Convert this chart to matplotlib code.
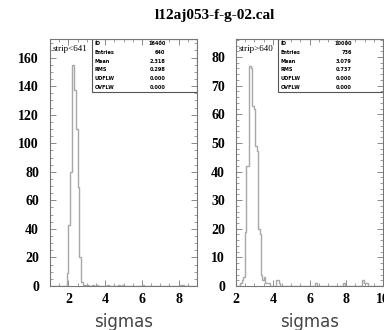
import numpy as np
import matplotlib
matplotlib.use("Agg")
import matplotlib.pyplot as plt

title = "l12aj053-f-g-02.cal"

# Left panel: strip<641, bin width 0.1, range 1..9
left_label = "strip<641"
left_bin_lo = [1.9, 2.0, 2.1, 2.2, 2.3, 2.4, 2.5, 2.6, 2.7, 2.8, 2.9, 3.0, 3.3, 3.5,
               4.1, 4.7, 4.9, 6.0, 8.1, 8.2]
left_counts = [9, 43, 80, 155, 137, 110, 69, 20, 3, 1, 1, 1, 1, 1,
               1, 1, 1, 1, 1, 1]
left_width = 0.1
left_range = (1.0, 9.0)
left_ylim = 173
left_yticks = [0, 20, 40, 60, 80, 100, 120, 140, 160]
left_xticks = [2, 4, 6, 8]
left_stats = [("ID", "16400"), ("Entries", "640"), ("Mean", "2.318"),
              ("RMS", "0.298"), ("UDFLW", "0.000"), ("OVFLW", "0.000")]

# Right panel: strip>640, bin width 0.08, range 2..10
right_label = "strip>640"
right_bin_lo = [2.24, 2.32, 2.40, 2.48, 2.56, 2.64, 2.72, 2.80, 2.88, 2.96, 3.04,
                3.12, 3.20, 3.28, 3.36, 3.44, 3.52, 3.60, 3.68, 3.76, 4.16, 4.24,
                4.32, 6.32, 7.84, 8.88, 8.96, 9.04, 9.12]
right_counts = [1, 2, 3, 19, 42, 42, 77, 76, 63, 62, 49,
                47, 20, 18, 4, 2, 3, 1, 1, 1, 2, 2,
                1, 1, 1, 2, 1, 1, 1]
right_width = 0.08
right_range = (2.0, 10.0)
right_ylim = 86.3
right_yticks = [0, 10, 20, 30, 40, 50, 60, 70, 80]
right_xticks = [2, 4, 6, 8, 10]
right_stats = [("ID", "10000"), ("Entries", "736"), ("Mean", "3.079"),
               ("RMS", "0.737"), ("UDFLW", "0.000"), ("OVFLW", "0.000")]

xlabel = "sigmas"

W, H = 384, 330
fig = plt.figure(figsize=(W / 100, H / 100), dpi=100)
fig.patch.set_facecolor("white")

serif = "Liberation Serif"
fig.text(215 / W, 1 - 15 / H, title, ha="center", va="center",
         family=serif, fontweight="bold", fontsize=11)

frame_col = "#777777"
hist_col = "#a8a8a8"


def panel(rect, lo, counts, width, xr, ylim, yticks, xticks, label, stats):
    ax = fig.add_axes(rect)
    edges = np.arange(xr[0], xr[1] + width / 2, width)
    centers = np.array(lo) + width / 2
    ax.hist(centers, bins=edges, weights=counts, histtype="step",
            color=hist_col, linewidth=1.0)
    ax.set_xlim(*xr)
    ax.set_ylim(0, ylim)
    ax.set_xticks(xticks)
    ax.set_yticks(yticks)
    ax.set_xticklabels([str(t) for t in xticks])
    ax.set_yticklabels([str(t) for t in yticks])
    ax.minorticks_on()
    ax.tick_params(which="both", direction="in", top=True, right=True,
                   color=frame_col)
    ax.tick_params(which="major", length=4, width=0.6, labelsize=10)
    ax.tick_params(axis="y", which="major", pad=8)
    ax.tick_params(axis="x", which="major", pad=5)
    ax.tick_params(which="minor", length=2, width=0.5)
    for lab in ax.get_xticklabels() + ax.get_yticklabels():
        lab.set_family(serif)
        lab.set_fontweight("bold")
    for s in ax.spines.values():
        s.set_color(frame_col)
        s.set_linewidth(0.8)
    ax.set_xlabel(xlabel, fontsize=12, family="DejaVu Sans", color="#444444",
                  labelpad=5)
    ax.text(0.02, 0.975, label, transform=ax.transAxes, ha="left", va="top",
            family=serif, fontsize=6.5)
    # stats box
    bx0, by0 = 0.286, 0.785
    ax.add_patch(plt.Rectangle((bx0, by0), 1 - bx0, 1 - by0,
                               transform=ax.transAxes, fill=False,
                               edgecolor="#555555", linewidth=0.8))
    n = len(stats)
    for i, (k, v) in enumerate(stats):
        yy = 1 - (i + 0.5) * (1 - by0) / n
        ax.text(bx0 + 0.02, yy, k, transform=ax.transAxes, ha="left",
                va="center", fontsize=3.6, fontweight="bold", family="DejaVu Sans")
        ax.text(bx0 + 0.50, yy, v, transform=ax.transAxes, ha="right",
                va="center", fontsize=3.6, fontweight="bold", family="DejaVu Sans")
    return ax


panel([50 / W, 44 / H, 147 / W, 247 / H], left_bin_lo, left_counts, left_width,
      left_range, left_ylim, left_yticks, left_xticks, left_label, left_stats)
panel([236 / W, 44 / H, 147 / W, 247 / H], right_bin_lo, right_counts, right_width,
      right_range, right_ylim, right_yticks, right_xticks, right_label, right_stats)

fig.savefig("out.png", dpi=100)
